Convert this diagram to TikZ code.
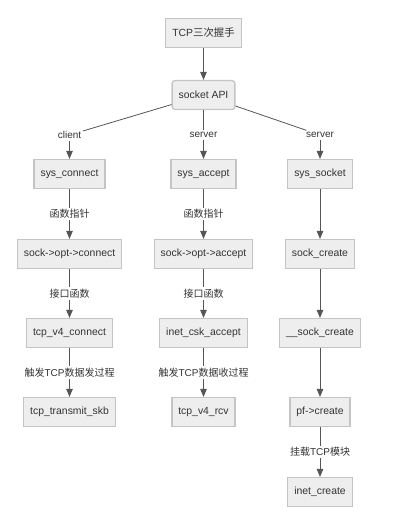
\documentclass[tikz,border=0pt]{standalone}
\usepackage{fontspec}
\setmainfont{Liberation Sans}
\newfontfamily\cjk{Noto Sans CJK SC}
\usetikzlibrary{arrows}
\definecolor{boxfill}{HTML}{EEEEEE}
\definecolor{boxline}{HTML}{C4C4C4}
\definecolor{txt}{HTML}{333333}
\definecolor{wire}{HTML}{555555}

\begin{document}
\begin{tikzpicture}[x=1pt,y=-1pt,->,>=triangle 45,line width=0.8pt,draw=wire,
  fn node/.style={rectangle,draw=boxline,fill=boxfill,line width=1.3pt,text=txt,
    minimum height=29pt,inner xsep=6.5pt,font=\fontsize{10.4pt}{12pt}\selectfont},
  lbl/.style={fill=white,text=txt,inner sep=1.5pt,font=\fontsize{10pt}{12pt}\selectfont}]

  \useasboundingbox (0,0) rectangle (405,520);

  \node[fn node]  (tcp) at (203.5,33) {TCP{\cjk 三次握手}};
  \node[fn node,rounded corners=3pt]  (api) at (203.5,95) {socket API};

  \node[lbl]  (cl) at (69.5,135) {client};
  \node[lbl]  (sv) at (203.5,135) {server};
  \node[lbl]  (sk) at (320,135) {server};

  \node[fn node]  (conn) at (69.5,174) {sys\_connect};
  \node[fn node]  (acc) at (203.5,174) {sys\_accept};
  \node[fn node]  (sock) at (320,174) {sys\_socket};
  \node[fn node]  (optc) at (69.5,254) {sock->opt->connect};
  \node[fn node]  (opta) at (203.5,254) {sock->opt->accept};
  \node[fn node]  (scr) at (320,254) {sock\_create};
  \node[fn node]  (v4c) at (69.5,333) {tcp\_v4\_connect};
  \node[fn node]  (csk) at (203.5,333) {inet\_csk\_accept};
  \node[fn node]  (uscr) at (320,333) {\_\_sock\_create};
  \node[fn node]  (xmit) at (69.5,412) {tcp\_transmit\_skb};
  \node[fn node]  (rcv) at (203.5,412) {tcp\_v4\_rcv};
  \node[fn node]  (pf) at (320,412) {pf->create};
  \node[fn node]  (inet) at (320,492) {inet\_create};

  \path[every node/.style={lbl}]
    (tcp) edge (api)
    (api) edge[-] (cl)
    (api) edge[-] (sv)
    (api) edge[-] (sk)
    (cl) edge (conn)
    (sv) edge (acc)
    (sk) edge (sock)
    (conn) edge node {\cjk 函数指针} (optc)
    (optc) edge node {\cjk 接口函数} (v4c)
    (v4c) edge node {{\cjk 触发}TCP{\cjk 数据发过程}} (xmit)
    (acc) edge node {\cjk 函数指针} (opta)
    (opta) edge node {\cjk 接口函数} (csk)
    (csk) edge node {{\cjk 触发}TCP{\cjk 数据收过程}} (rcv)
    (sock) edge (scr)
    (scr) edge (uscr)
    (uscr) edge (pf)
    (pf) edge node {{\cjk 挂载}TCP{\cjk 模块}} (inet);

\end{tikzpicture}
\end{document}
